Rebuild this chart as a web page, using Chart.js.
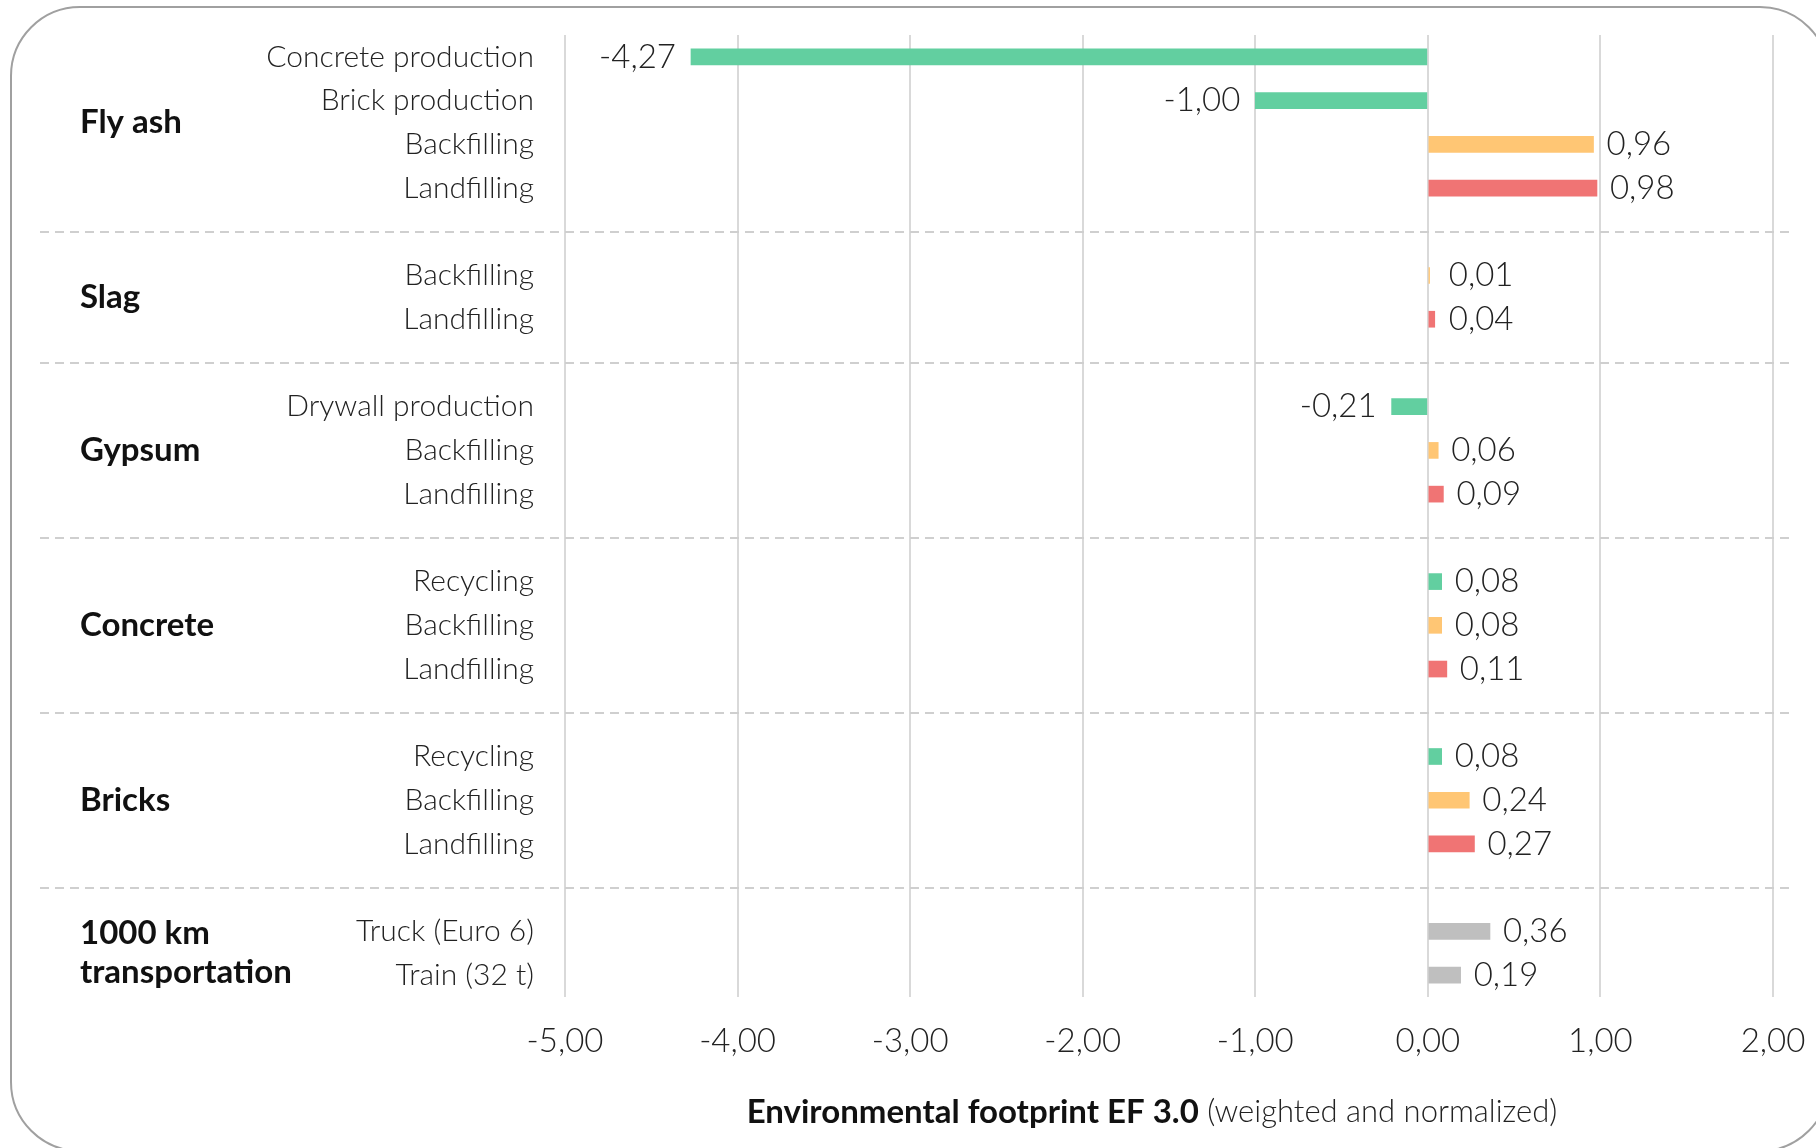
<!DOCTYPE html>
<html>
<head>
<meta charset="utf-8">
<script src="https://cdn.jsdelivr.net/npm/chart.js@4"></script>
<style>
  html, body { margin: 0; padding: 0; background: #fff; overflow: hidden; }
  #wrap { position: relative; width: 1816px; height: 1148px; }
  #frame { position: absolute; left: 10px; top: 6px; width: 1820px; height: 1146px;
           border: 2px solid #a0a0a0; border-radius: 70px; box-sizing: border-box; }
  canvas { position: absolute; left: 0; top: 0; }
</style>
</head>
<body>
<div id="wrap">
  <div id="frame"></div>
  <canvas id="efChart" width="1816" height="1148"></canvas>
</div>
<script>
// data
var categories = ['Concrete production', 'Brick production', 'Backfilling', 'Landfilling', '',
                  'Backfilling', 'Landfilling', '',
                  'Drywall production', 'Backfilling', 'Landfilling', '',
                  'Recycling', 'Backfilling', 'Landfilling', '',
                  'Recycling', 'Backfilling', 'Landfilling', '',
                  'Truck (Euro 6)', 'Train (32 t)'];
var values = [-4.27, -1.00, 0.96, 0.98, null,
              0.01, 0.04, null,
              -0.21, 0.06, 0.09, null,
              0.08, 0.08, 0.11, null,
              0.08, 0.24, 0.27, null,
              0.36, 0.19];
var groupNames = [['Fly ash'], ['Slag'], ['Gypsum'], ['Concrete'], ['Bricks'], ['1000 km', 'transportation']];
var groupSizes = [4, 2, 3, 3, 3, 2];
var xTicks = [-5, -4, -3, -2, -1, 0, 1, 2];

var VALUE_FONT = '300 33px Lato, "Open Sans", sans-serif';
var TITLE_LIGHT = '300 31px Lato, "Open Sans", sans-serif';
var BOLD = 'bold 33px Lato, "Open Sans", sans-serif';

function fmt(v) { return v.toFixed(2).replace('.', ','); }

function barColor(label) {
  if (/production|Recycling/.test(label)) return '#62cfa0';
  if (label === 'Backfilling') return '#ffc674';
  if (label === 'Landfilling') return '#f07474';
  return '#bfbfbf';
}

// value labels, group names, dashed separators, axis title
var extras = {
  id: 'extras',
  afterDatasetsDraw: function(chart) {
    var ctx = chart.ctx;
    var xs = chart.scales.x, ys = chart.scales.y;
    ctx.save();

    // dashed separators on the blank rows
    ctx.strokeStyle = '#cfcfcf';
    ctx.lineWidth = 2;
    ctx.setLineDash([9, 6]);
    categories.forEach(function(c, i) {
      if (values[i] !== null) return;
      var y = Math.round(ys.getPixelForValue(i));
      ctx.beginPath();
      ctx.moveTo(40, y);
      ctx.lineTo(1793, y);
      ctx.stroke();
    });
    ctx.setLineDash([]);

    // value labels
    ctx.font = VALUE_FONT;
    ctx.fillStyle = '#222';
    ctx.textBaseline = 'middle';
    values.forEach(function(v, i) {
      if (v === null) return;
      var x = xs.getPixelForValue(v);
      var y = ys.getPixelForValue(i);
      if (v < 0) { ctx.textAlign = 'right'; ctx.fillText(fmt(v), x - 15, y); }
      else { ctx.textAlign = 'left'; ctx.fillText(fmt(v), Math.max(x, xs.getPixelForValue(0) + 8) + 13, y); }
    });

    // group names
    ctx.font = BOLD;
    ctx.fillStyle = '#111';
    ctx.textAlign = 'left';
    var start = 0;
    groupSizes.forEach(function(n, g) {
      var yc = (ys.getPixelForValue(start) + ys.getPixelForValue(start + n - 1)) / 2;
      var lines = groupNames[g];
      lines.forEach(function(t, k) {
        ctx.fillText(t, 80, yc + (k - (lines.length - 1) / 2) * 39);
      });
      start += n + 1;
    });

    // axis title, bold part + light part
    var t1 = 'Environmental footprint EF 3.0', t2 = ' (weighted and normalized)';
    ctx.font = BOLD;
    var w1 = ctx.measureText(t1).width;
    ctx.font = TITLE_LIGHT;
    var w2 = ctx.measureText(t2).width;
    var x0 = 1152 - (w1 + w2) / 2, ty = 1112;
    ctx.font = BOLD; ctx.fillStyle = '#111';
    ctx.fillText(t1, x0, ty);
    ctx.font = TITLE_LIGHT; ctx.fillStyle = '#222';
    ctx.fillText(t2, x0 + w1, ty);
    ctx.restore();
  }
};

var ctxE = document.getElementById('efChart').getContext('2d');
var efChart = new Chart(ctxE, {
  type: 'bar',
  data: {
    labels: categories,
    datasets: [{
      data: values,
      backgroundColor: categories.map(barColor),
      barThickness: 16
    }]
  },
  plugins: [extras],
  options: {
    indexAxis: 'y',
    responsive: false,
    animation: false,
    layout: { padding: { top: 35, right: 43, left: 0, bottom: 0 } },
    plugins: { legend: { display: false }, tooltip: { enabled: false } },
    scales: {
      x: {
        min: -5, max: 2,
        afterBuildTicks: function(s) { s.ticks = xTicks.map(function(v) { return { value: v }; }); },
        afterFit: function(s) { s.height = 151; s.paddingLeft = 0; s.paddingRight = 0; },
        grid: { color: '#d9d9d9', lineWidth: 2, drawTicks: false },
        border: { display: false },
        ticks: { padding: 25, color: '#222', font: { family: 'Lato', weight: '300', size: 33 },
                 callback: function(v) { return fmt(v); } }
      },
      y: {
        afterFit: function(s) { s.width = 565; s.paddingTop = 0; s.paddingBottom = 0; },
        grid: { display: false, drawTicks: false },
        border: { display: false },
        ticks: { padding: 31, color: '#222', autoSkip: false,
                 font: { family: 'Lato', weight: '300', size: 30 } }
      }
    }
  }
});
</script>
</body>
</html>
